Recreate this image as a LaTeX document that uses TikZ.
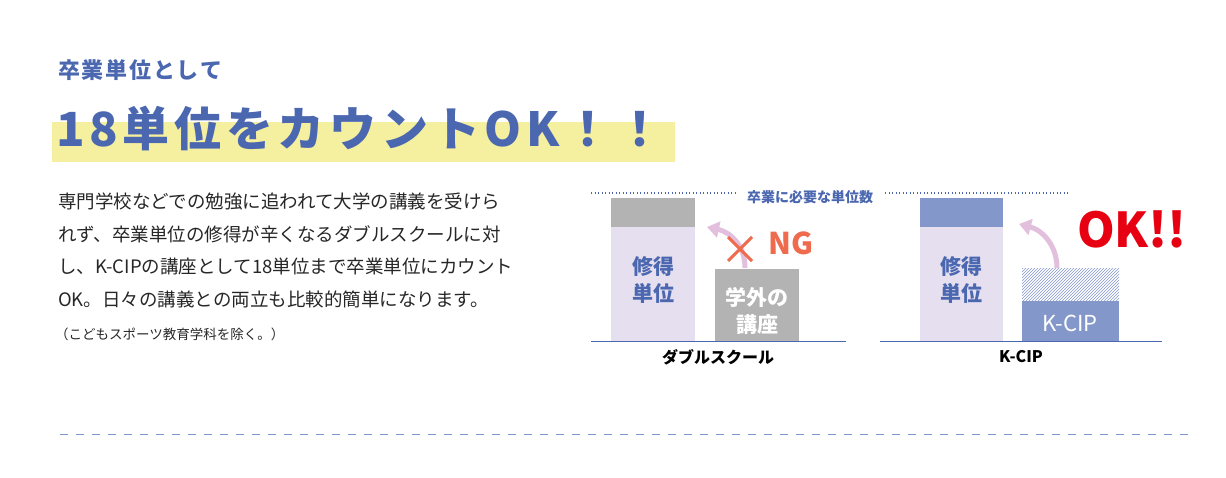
\documentclass[tikz,border=0pt]{standalone}
\usepackage{fontspec}
\setmainfont{Noto Sans CJK JP}
\usetikzlibrary{patterns,arrows.meta}
\definecolor{tblue}{HTML}{4A67B0}
\definecolor{hl}{HTML}{F5EFA0}
\definecolor{lav}{HTML}{E6DFEF}
\definecolor{gry}{HTML}{B3B3B3}
\definecolor{kblue}{HTML}{8497CB}
\definecolor{ngc}{HTML}{EE6B4E}
\definecolor{okc}{HTML}{E60012}
\definecolor{arr}{HTML}{E2BFDC}
\tikzset{bartxt/.style={font=\fontsize{21}{27}\selectfont\bfseries,align=center,inner sep=0pt},
 base/.style={draw=tblue,line width=1pt},
 dots/.style={draw=tblue,line width=1.2pt,dash pattern=on 1pt off 2.5pt},
 uparrow/.style={arr,line width=5pt,-{Triangle[length=12pt,width=16pt]}}}
\begin{document}
\begin{tikzpicture}[x=1pt,y=-1pt]
\useasboundingbox (0,0) rectangle (1226,478);
\fill[hl] (52,122) rectangle (675,162);
\node[anchor=west,text=tblue,font=\fontsize{22}{26}\selectfont\bfseries\addfontfeature{LetterSpace=8},inner sep=0pt] (sub) at (58,70) {卒業単位として};
\node[anchor=west,text=tblue,font=\fontsize{47}{50}\selectfont\bfseries\addfontfeature{LetterSpace=10},inner sep=0pt] (head) at (56,128) {18単位をカウントOK！！};
\node[anchor=north west,align=left,inner sep=0pt,font=\fontsize{18.5}{32.5}\selectfont,text=black!85] (body) at (58,193) {専門学校などでの勉強に追われて大学の講義を受けら\\れず、卒業単位の修得が辛くなるダブルスクールに対\\し、K-CIPの講座として18単位まで卒業単位にカウント\\OK。日々の講義との両立も比較的簡単になります。};
\node[anchor=west,inner sep=0pt,font=\fontsize{13.5}{15}\selectfont,text=black!85] (note) at (55,334) {（こどもスポーツ教育学科を除く。）};
% required line
\draw[dots] (591,193) -- (737,193);
\draw[dots] (885,193) -- (1070,193);
\node[text=tblue,font=\fontsize{14}{16}\selectfont\bfseries,inner sep=0pt] (req) at (810,197) {卒業に必要な単位数};
% left chart
\fill[lav] (611,227) rectangle (695,341);
\fill[gry] (611,198) rectangle (695,227);
\node[bartxt,text=tblue] (l1) at (653,280) {修得\\単位};
\fill[gry] (715,269) rectangle (799,341);
\node[bartxt,text=white] (l2) at (757,311) {学外の\\講座};
\draw[base] (591,341) -- (846,341);
\coordinate (a1s) at (745,268);
\coordinate (a1e) at (707,227);
\draw[uparrow] (a1s) .. controls (745,245) and (730,232) .. (a1e);
\draw[ngc,line width=3pt] (728,237) -- (752,261) (752,237) -- (728,261);
\node[text=ngc,font=\fontsize{30}{34}\selectfont\bfseries,inner sep=0pt] (ng) at (791,243) {NG};
\node[font=\fontsize{16}{18}\selectfont\bfseries,inner sep=0pt] (lab1) at (718,357) {ダブルスクール};
% right chart
\fill[lav] (920,227) rectangle (1003,341);
\fill[kblue] (920,198) rectangle (1003,227);
\node[bartxt,text=tblue] (r1) at (961,280) {修得\\単位};
\fill[kblue] (1022,301) rectangle (1119,341);
\fill[pattern=north east lines,pattern color=kblue] (1022,269) rectangle (1119,301);
\node[text=white,font=\fontsize{22}{24}\selectfont,inner sep=0pt] (kc) at (1070,323) {K-CIP};
\draw[base] (880,341) -- (1162,341);
\coordinate (a2s) at (1057,268);
\coordinate (a2e) at (1019,224);
\draw[uparrow] (a2s) .. controls (1057,245) and (1042,230) .. (a2e);
\node[text=okc,font=\fontsize{48}{50}\selectfont\bfseries,inner sep=0pt] (ok) at (1132,229) {OK!!};
\node[font=\fontsize{16}{18}\selectfont\bfseries,inner sep=0pt] (lab2) at (1021,357) {K-CIP};
% dashed separator
\draw[tblue!70,line width=1pt,dash pattern=on 8pt off 8pt] (60,434) -- (1196,434);
\end{tikzpicture}
\end{document}
